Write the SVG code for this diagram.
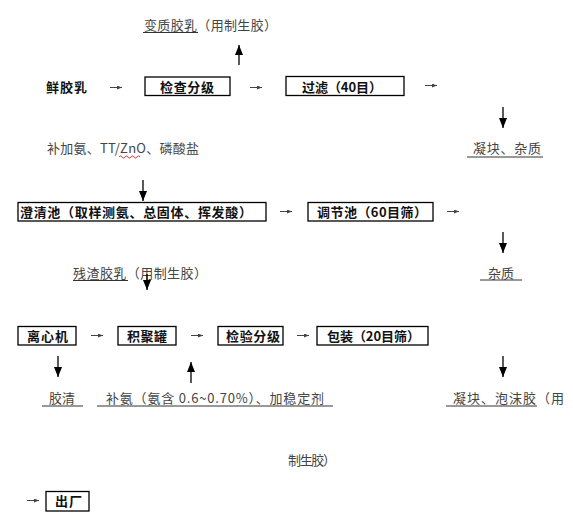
<svg xmlns="http://www.w3.org/2000/svg" width="573" height="517" viewBox="0 0 573 517">
<style>
.t{font-family:"Noto Sans CJK SC","Liberation Serif",sans-serif;font-size:13px;fill:#444;}
.b{font-family:"Noto Sans CJK SC","Liberation Sans",sans-serif;font-size:13px;font-weight:700;fill:#111;}
.box{fill:#fff;stroke:#000;stroke-width:1.3;}
.ul{stroke:#333;stroke-width:1;}
.big{stroke:#000;stroke-width:1.3;fill:none;}
.sm{stroke:#444;stroke-width:1;fill:none;}
</style>
<defs>
<marker id="ah" viewBox="0 0 10 8" refX="10" refY="4" markerWidth="10" markerHeight="8" orient="auto" markerUnits="userSpaceOnUse"><path d="M0,0 L10,4 L0,8 z" fill="#000"/></marker>
<marker id="sa" viewBox="0 0 5 4" refX="5" refY="2" markerWidth="5" markerHeight="4" orient="auto" markerUnits="userSpaceOnUse"><path d="M0,0 L5,2 L0,4 z" fill="#444"/></marker>
</defs>
<rect width="573" height="517" fill="#fff"/>

<g id="label-degraded">
<text class="t" x="144" y="29.5" textLength="133">变质胶乳（用制生胶）</text>
<line class="ul" x1="143" y1="32.5" x2="198" y2="32.5"/>
</g>
<g id="node-fresh"><text class="b" x="46" y="92" textLength="41">鲜胶乳</text></g>
<g id="node-inspect">
<rect class="box" x="145" y="77" width="85" height="18.5"/>
<text class="b" x="160" y="91.5" textLength="54">检查分级</text>
</g>
<g id="node-filter">
<rect class="box" x="286" y="76.5" width="118" height="19"/>
<text class="b" x="302" y="91.5" textLength="80">过滤（40目）</text>
</g>
<g id="label-additives">
<text class="t" x="47" y="153" textLength="152">补加氨、TT/ZnO、磷酸盐</text>
<path d="M119,157 q1.5,-2.2 3,0 t3,0 t3,0 t3,0 t3,0 t3,0 t3,0" fill="none" stroke="#d00" stroke-width="0.8"/>
</g>
<g id="label-clots1">
<text class="t" x="473" y="153" textLength="68">凝块、杂质</text>
<line class="ul" x1="467" y1="157" x2="543" y2="157"/>
</g>
<g id="node-clarify">
<rect class="box" x="18" y="202.5" width="248" height="18.5"/>
<text class="b" x="20" y="216.5" textLength="232">澄清池（取样测氨、总固体、挥发酸）</text>
</g>
<g id="node-adjust">
<rect class="box" x="308" y="202.5" width="125" height="18.5"/>
<text class="b" x="317" y="216.5" textLength="110">调节池（60目筛）</text>
</g>
<g id="label-residue">
<text class="t" x="73" y="278" textLength="134">残渣胶乳（用制生胶）</text>
<line class="ul" x1="73" y1="280.5" x2="128" y2="280.5"/>
</g>
<g id="label-impurity">
<text class="t" x="488" y="278" textLength="26">杂质</text>
<line class="ul" x1="480" y1="280" x2="522" y2="280"/>
</g>
<g id="node-centrifuge">
<rect class="box" x="18" y="326.5" width="58" height="18.5"/>
<text class="b" x="27" y="340.5" textLength="41">离心机</text>
</g>
<g id="node-tank">
<rect class="box" x="118" y="326.5" width="58" height="18.5"/>
<text class="b" x="127" y="340.5" textLength="40">积聚罐</text>
</g>
<g id="node-check">
<rect class="box" x="218" y="326.5" width="65" height="18.5"/>
<text class="b" x="226" y="340.5" textLength="54">检验分级</text>
</g>
<g id="node-pack">
<rect class="box" x="317" y="326.5" width="111" height="18.5"/>
<text class="b" x="327" y="340.5" textLength="93">包装（20目筛）</text>
</g>
<g id="label-serum">
<text class="t" x="49" y="403" textLength="26">胶清</text>
<line class="ul" x1="42" y1="406" x2="83" y2="406"/>
</g>
<g id="label-ammonia">
<text class="t" x="106" y="403" textLength="218">补氨（氨含 0.6~0.70%）、加稳定剂</text>
<line class="ul" x1="97" y1="406" x2="333" y2="406"/>
</g>
<g id="label-clots2">
<text class="t" x="453" y="403" textLength="111">凝块、泡沫胶（用</text>
<line class="ul" x1="446" y1="406" x2="537" y2="406"/>
<text class="t" x="288" y="465" textLength="48">制生胶）</text>
</g>
<g id="node-out">
<rect class="box" x="46" y="491.5" width="43" height="19.5"/>
<text class="b" x="55" y="506" textLength="27">出厂</text>
</g>

<g id="connectors">
<line class="big" x1="239" y1="65" x2="239" y2="45" marker-end="url(#ah)"/>
<line class="big" x1="503" y1="107" x2="503" y2="128" marker-end="url(#ah)"/>
<line class="big" x1="143" y1="180" x2="143" y2="201" marker-end="url(#ah)"/>
<line class="big" x1="503" y1="232" x2="503" y2="253" marker-end="url(#ah)"/>
<line class="big" x1="147" y1="274" x2="147" y2="290" marker-end="url(#ah)"/>
<line class="big" x1="58" y1="356" x2="58" y2="377" marker-end="url(#ah)"/>
<line class="big" x1="191" y1="383" x2="191" y2="362" marker-end="url(#ah)"/>
<line class="big" x1="503" y1="356" x2="503" y2="377" marker-end="url(#ah)"/>
<line class="sm" x1="110" y1="87.5" x2="122" y2="87.5" marker-end="url(#sa)"/>
<line class="sm" x1="250" y1="87.5" x2="262" y2="87.5" marker-end="url(#sa)"/>
<line class="sm" x1="425" y1="85.5" x2="437" y2="85.5" marker-end="url(#sa)"/>
<line class="sm" x1="280" y1="211.5" x2="292" y2="211.5" marker-end="url(#sa)"/>
<line class="sm" x1="447" y1="211.5" x2="459" y2="211.5" marker-end="url(#sa)"/>
<line class="sm" x1="91" y1="335.5" x2="103" y2="335.5" marker-end="url(#sa)"/>
<line class="sm" x1="191" y1="335.5" x2="203" y2="335.5" marker-end="url(#sa)"/>
<line class="sm" x1="297" y1="335.5" x2="309" y2="335.5" marker-end="url(#sa)"/>
<line class="sm" x1="27" y1="500.5" x2="39" y2="500.5" marker-end="url(#sa)"/>
</g>
</svg>
